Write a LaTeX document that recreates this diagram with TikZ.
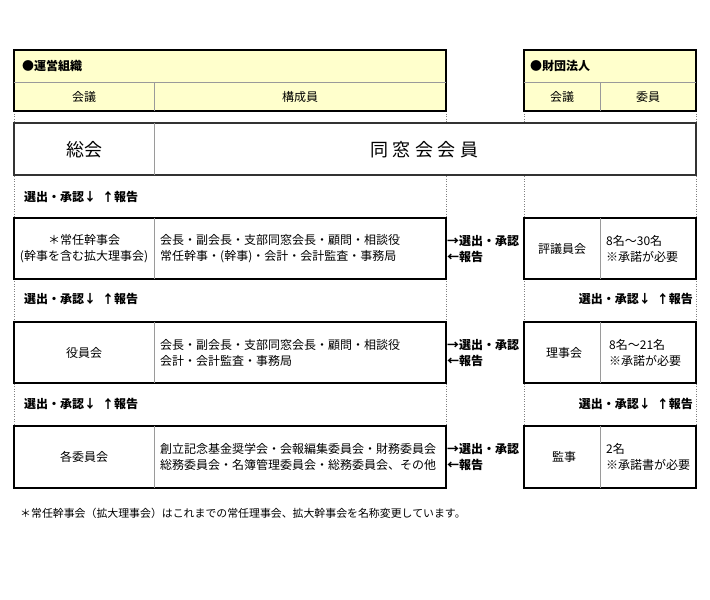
\documentclass[tikz,border=0pt]{standalone}
\usepackage{fontspec}
\setmainfont{Noto Sans CJK JP}
\definecolor{hdrfill}{HTML}{FFFFCC}
\definecolor{divgray}{HTML}{9A9A9A}
\definecolor{dotgray}{HTML}{808080}
\definecolor{thickgray}{HTML}{333333}
\begin{document}
\begin{tikzpicture}[x=1pt,y=-1pt,
  hdrbox/.style={draw=black,line width=1.5pt,fill=hdrfill},
  rowbox/.style={draw=black,line width=1.5pt,fill=white},
  bigbox/.style={draw=thickgray,line width=2.4pt,fill=white},
  divline/.style={draw=divgray,line width=0.6pt},
  dotline/.style={draw=dotgray,line width=0.5pt,dotted},
  txt/.style={font=\fontsize{12}{16}\selectfont,inner sep=0pt},
  lbl/.style={font=\fontsize{12}{16}\selectfont\bfseries,inner sep=0pt},
  cen/.style={txt,align=center},
  lft/.style={txt,align=left,anchor=west}]
\useasboundingbox (0,0) rectangle (710,600);
% dotted grid lines
\foreach \xx in {14,446,524,696} \draw[dotline] (\xx,111) -- (\xx,426);
% header boxes
\draw[hdrbox] (14,50) rectangle (446,111);
\draw[divline] (14,82) -- (446,82) (154,82) -- (154,111);
\draw[hdrbox] (524,50) rectangle (696,111);
\draw[divline] (524,82) -- (696,82) (600,82) -- (600,111);
\node[lbl,anchor=west] (h1) at (22,66) {●運営組織};
\node[txt] (h1a) at (84,97) {会議};
\node[txt] (h1b) at (300,97) {構成員};
\node[lbl,anchor=west] (h2) at (530,66) {●財団法人};
\node[txt] (h2a) at (562,97) {会議};
\node[txt] (h2b) at (648,97) {委員};
% general meeting
\draw[bigbox] (14,123) rectangle (696,175);
\draw[divline] (154,123) -- (154,175);
\node[txt,font=\fontsize{18}{20}\selectfont] (sokai) at (84,150) {総会};
\node[txt,font=\fontsize{18}{20}\selectfont] (members) at (424,150) {同\hspace{4.5pt}窓\hspace{4.5pt}会\hspace{4.5pt}会\hspace{4.5pt}員};
% labels row 1
\node[lbl,anchor=west] (l1) at (24,197) {選出・承認↓\hspace{6pt}↑報告};
% row 2
\draw[rowbox] (14,218) rectangle (446,279);
\draw[divline] (154,218) -- (154,279);
\node[cen] (r2a) at (84,249) {＊常任幹事会\\(幹事を含む拡大理事会)};
\node[lft] (r2b) at (160,249) {会長・副会長・支部同窓会長・顧問・相談役\\常任幹事・(幹事)・会計・会計監査・事務局};
\node[lbl,anchor=west,align=left] (m2) at (447,249) {→選出・承認\\←報告};
\draw[rowbox] (524,218) rectangle (696,279);
\draw[divline] (600,218) -- (600,279);
\node[txt] (f2a) at (562,249) {評議員会};
\node[lft] (f2b) at (606,249) {8名～30名\\※承諾が必要};
% labels row 2
\node[lbl,anchor=west] (l2) at (24,299) {選出・承認↓\hspace{6pt}↑報告};
\node[lbl,anchor=east] (l2r) at (693,299) {選出・承認↓\hspace{6pt}↑報告};
% row 3
\draw[rowbox] (14,322) rectangle (446,383);
\draw[divline] (154,322) -- (154,383);
\node[txt] (r3a) at (84,353) {役員会};
\node[lft] (r3b) at (160,353) {会長・副会長・支部同窓会長・顧問・相談役\\会計・会計監査・事務局};
\node[lbl,anchor=west,align=left] (m3) at (447,353) {→選出・承認\\←報告};
\draw[rowbox] (524,322) rectangle (696,383);
\draw[divline] (600,322) -- (600,383);
\node[txt] (f3a) at (564,353) {理事会};
\node[lft] (f3b) at (609,353) {8名～21名\\※承諾が必要};
% labels row 3
\node[lbl,anchor=west] (l3) at (24,404) {選出・承認↓\hspace{6pt}↑報告};
\node[lbl,anchor=east] (l3r) at (693,404) {選出・承認↓\hspace{6pt}↑報告};
% row 4
\draw[rowbox] (14,426) rectangle (446,488);
\draw[divline] (154,426) -- (154,488);
\node[txt] (r4a) at (84,457) {各委員会};
\node[lft] (r4b) at (160,457) {創立記念基金奨学会・会報編集委員会・財務委員会\\総務委員会・名簿管理委員会・総務委員会、その他};
\node[lbl,anchor=west,align=left] (m4) at (447,457) {→選出・承認\\←報告};
\draw[rowbox] (524,426) rectangle (696,488);
\draw[divline] (600,426) -- (600,488);
\node[txt] (f4a) at (564,457) {監事};
\node[lft] (f4b) at (606,457) {2名\\※承諾書が必要};
% footnote
\node[txt,anchor=west,font=\fontsize{10.9}{12}\selectfont] (note) at (20,513) {＊常任幹事会（拡大理事会）はこれまでの常任理事会、拡大幹事会を名称変更しています。};
\end{tikzpicture}
\end{document}
